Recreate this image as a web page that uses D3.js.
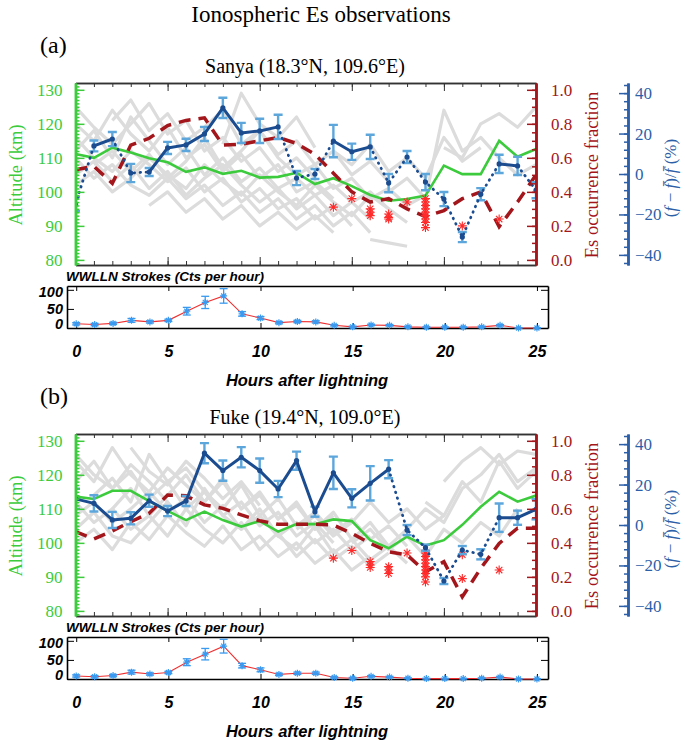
<!DOCTYPE html>
<html>
<head>
<meta charset="utf-8">
<script src="https://cdn.jsdelivr.net/npm/d3@7"></script>
<style>
body { margin: 0; background: #fff; }
</style>
</head>
<body>
<svg id="viz"></svg>
<script>
var _ = null
var hours = d3.range(0, 26)

// ---- Sanya (a) ----
var sanyaAlt = [111.1,110.0,113.0,111.6,109.9,108.7,105.9,107.2,105.3,106.2,104.2,104.4,105.6,102.3,104.0,101.7,99.1,97.4,97.9,98.9,107.7,105.2,105.2,115.0,110.3,112.6]
var sanyaOcc = [0.53,0.55,0.45,0.675,0.715,0.79,0.82,0.835,0.675,0.68,0.70,0.72,0.685,0.62,0.51,0.40,0.34,0.36,0.30,0.255,0.29,0.36,0.40,0.195,0.34,0.50]
var sanyaDev = [-14.9,13.9,17.3,0.5,1.0,12.9,14.4,19.8,32.7,20.3,21.3,23.3,-2.0,0.0,16.3,11.0,13.4,-4.5,8.4,-4.0,-12.4,-31.2,-10.0,5.0,4.0,-8.0]
var sanyaDevErr = [3.5,2.7,3.5,4.5,2.0,3.0,3.0,3.5,5.0,5.0,6.0,6.0,3.5,2.5,8.0,4.0,6.0,4.5,3.0,4.0,3.5,2.5,3.0,4.5,4.5,4.0]
// 1 = significant change between consecutive hours
var sanyaSig = [0,1,0,0,1,1,1,1,1,1,1,0,0,0,1,1,0,0,0,0,0,0,0,1,0]
var sanyaStarH = [14,15,16,16,16,17,17,17,18,19,19,19,19,19,19,19,19,19,21,23]
var sanyaStarV = [0.31,0.36,0.30,0.28,0.26,0.27,0.25,0.24,0.34,0.36,0.34,0.32,0.30,0.28,0.26,0.24,0.22,0.19,0.20,0.24]
var sanyaStrokes = [11,9,12,20,16,20,44,67,84,37,26,14,17,16,7,3,8,7,3,2,2,2,3,7,0,0]
var sanyaStrokeErr = [3,3,3,5,3,3,10,16,19,6,4,3,3,3,2,2,2,2,2,1,1,1,2,2,1,1]
var sanyaGrey = [
  [112,118,110,122,115,108,113,105,110,103,107,101,104,99,102,97,100,95],
  [120,115,124,117,112,119,110,114,106,111,104,108,100,103,98],
  [105,109,103,108,101,106,99,104,108,102,97,101,95,99,93,97,92],
  [125,119,114,120,126,117,121,112,116,109,113,106,110,104],
  [_,108,112,106,111,104,109,116,107,112,118,110,105,108,101,104,98,101,96,99],
  [116,110,106,112,108,103,107,100,104,97,101,95,98,92,96,90],
  [102,106,100,104,110,105,101,108,103,99,105,100,96,102,97,93,99,95,91],
  [_,_,121,127,118,123,115,119,124,114,118,111,115,108,112,105,109,103],
  [110,104,108,102,99,104,98,102,96,100,94,98,92,96,90,94,88],
  [_,_,_,_,_,_,_,_,_,_,_,_,_,_,_,_,_,100,104,98,124,112,116,110,105,108],
  [_,_,_,_,_,_,_,_,_,_,_,_,_,_,_,_,_,_,_,_,113,110,120,123,119,125],
  [_,_,_,_,_,_,_,_,_,_,_,_,_,_,_,_,86,85,84],
  [_,_,_,_,96,100,94,98,92,96,90,94,89,93,88],
  [_,_,_,_,_,_,_,_,_,_,_,_,_,_,112,108,114,106,110,104,116,109,113],
  [_,_,_,_,_,_,_,_,114,129,120,116,122,113]
]

// ---- Fuke (b) ----
var fukeAlt = [113.6,112.9,115.3,115.3,112.3,109.4,106.7,109.2,106.7,104.8,106.4,103.3,105.5,105.5,106.9,106.4,100.8,98.4,101.8,99.2,100.8,105.3,110.6,115.0,112.1,113.9]
var fukeOcc = [0.466,0.423,0.47,0.524,0.574,0.681,0.677,0.623,0.603,0.564,0.53,0.509,0.509,0.509,0.505,0.456,0.397,0.348,0.329,0.23,0.289,0.083,0.25,0.397,0.486,0.486]
var fukeDev = [12.9,10.7,2.5,3.3,12.0,6.9,11.9,35.5,26.9,33.5,26.9,17.8,31.8,6.6,25.8,13.2,20.6,27.6,-2.5,-11.2,-27.7,-12.4,-14.5,3.6,3.6,7.8]
var fukeDevErr = [5.0,4.0,4.0,3.0,3.0,2.5,2.5,5.0,5.0,5.0,6.0,4.0,4.5,2.5,8.0,4.5,8.5,4.5,2.5,1.5,1.5,2.0,2.5,7.0,3.5,5.0]
var fukeSig = [1,1,1,1,1,1,1,1,1,1,1,1,1,1,1,1,1,0,0,0,0,0,0,1,1]
var fukeStarH = [14,15,16,16,16,17,17,17,18,19,19,19,19,19,19,19,19,19,21,21,23]
var fukeStarV = [0.31,0.355,0.29,0.27,0.255,0.26,0.24,0.22,0.34,0.34,0.32,0.30,0.28,0.26,0.24,0.22,0.20,0.17,0.33,0.19,0.24]
var fukeStrokes = [8,6,9,18,13,17,44,65,86,35,24,12,15,15,4,2,7,5,2,1,1,1,2,5,0,0]
var fukeStrokeErr = [3,3,3,5,3,3,9,15,18,6,5,3,3,3,2,2,2,2,1,1,1,1,1,2,1,1]
var fukeGrey = [
  [118,124,116,121,113,118,110,115,108,112,105,109,102,106,100],
  [108,112,106,110,115,109,113,106,111,104,108,102,106,100,104,98,102],
  [124,118,128,120,115,122,117,112,119,110,114,107,111,104,108],
  [100,104,98,106,101,108,103,99,105,98,102,96,100,94,98,92,96],
  [_,114,119,112,126,118,122,115,110,117,108,113,105,109,103,107,101,105,99],
  [112,106,110,104,108,102,110,104,100,106,98,103,96,101,95,99,93,97],
  [_,_,110,116,108,114,120,112,118,110,115,107,112,104,109,101,106,99,104],
  [104,109,102,100,106,112,105,116,108,104,110,102,98,105,97,101,95,99,94],
  [_,_,_,_,_,_,_,_,_,_,_,_,104,108,102,106,112,106,110,104,108],
  [_,_,_,_,_,_,_,_,_,_,_,_,_,_,_,_,_,_,104,110,106,116,120,126,118,122],
  [_,_,_,_,_,_,_,_,_,_,_,_,_,_,_,_,_,_,_,112,108,118,112,124,116,121],
  [_,_,_,_,_,_,_,_,_,_,_,_,_,_,_,_,_,_,_,_,118,124,128,123,127,126],
  [_,_,_,_,_,_,_,_,_,_,_,_,_,_,_,100,104,98,102,96,104,100,106,102,110],
  [126,120,116,123,118,112],
  [_,_,_,128,121,117,124,119,113,118,111]
]

var devTicks = [-40, -20, 0, 20, 40]
var strokeTicks = [0, 50, 100]
var hourTicks = [0, 5, 10, 15, 20, 25]

var width = 685
var height = 740

var serif = "'Liberation Serif', 'Times New Roman', serif"
var sans = "'Liberation Sans', Arial, sans-serif"

var green = "#3ccb3c"
var darkRed = "#a3161b"
var blueAx = "#2d5fa8"
var blueLine = "#1b4c90"
var blueErr = "#5ca6dc"
var starRed = "#ff2a2a"
var grey = "#dcdcdc"

var svg = d3.select("#viz")
	.attr("width", width)
	.attr("height", height)

svg.append("text")
	.attr("x", 321).attr("y", 22)
	.attr("text-anchor", "middle")
	.style("font-family", serif).style("font-size", "23px")
	.text("Ionospheric Es observations")

var panels = [
	{top: 0, tag: "(a)", title: "Sanya (18.3°N, 109.6°E)", grey: sanyaGrey, alt: sanyaAlt, occ: sanyaOcc,
	 dev: sanyaDev, devErr: sanyaDevErr, sig: sanyaSig, starH: sanyaStarH, starV: sanyaStarV,
	 strokes: sanyaStrokes, strokeErr: sanyaStrokeErr},
	{top: 351, tag: "(b)", title: "Fuke (19.4°N, 109.0°E)", grey: fukeGrey, alt: fukeAlt, occ: fukeOcc,
	 dev: fukeDev, devErr: fukeDevErr, sig: fukeSig, starH: fukeStarH, starV: fukeStarV,
	 strokes: fukeStrokes, strokeErr: fukeStrokeErr}
]

function starPath(r){
	var a = r * 0.7071
	return "M" + (-r) + ",0H" + r + "M0," + (-r) + "V" + r +
		"M" + (-a) + "," + (-a) + "L" + a + "," + a +
		"M" + (-a) + "," + a + "L" + a + "," + (-a)
}

function styleAxis(sel, color, font, size, weight, style){
	sel.attr("color", color)
		.attr("font-family", font)
		.attr("font-size", size)
	sel.selectAll("text").style("font-weight", weight || "normal").style("font-style", style || "normal")
}

function drawPanel(p, idx){

	var g = svg.append("g").attr("transform", "translate(0," + p.top + ")")

	var x = d3.scaleLinear().domain([0, 25]).range([75.5, 536])
	var yAlt = d3.scaleLinear().domain([78.5, 132]).range([265, 83])
	var yOcc = d3.scaleLinear().domain([-0.03, 1.04]).range([265, 83])
	var yDev = d3.scaleLinear().domain([-45, 45]).range([265, 83])

	// titles
	g.append("text").attr("x", 40).attr("y", 53)
		.style("font-family", serif).style("font-size", "24px")
		.text(p.tag)
	g.append("text").attr("x", 305).attr("y", 73)
		.attr("text-anchor", "middle")
		.style("font-family", serif).style("font-size", "20px")
		.text(p.title)

	g.append("clipPath").attr("id", "clip" + idx)
		.append("rect").attr("x", 75.5).attr("y", 83).attr("width", 460.5).attr("height", 182)

	var plot = g.append("g").attr("clip-path", "url(#clip" + idx + ")")

	// individual event traces
	var altLine = d3.line()
		.defined(d => d[1] != null)
		.x(d => x(d[0]))
		.y(d => yAlt(d[1]))

	p.grey.forEach(function(tr){
		plot.append("path")
			.datum(tr.map((v, i) => [i, v]))
			.attr("d", altLine)
			.attr("fill", "none")
			.attr("stroke", grey)
			.attr("stroke-width", 3.2)
			.attr("stroke-linejoin", "round")
	})

	// mean altitude
	plot.append("path")
		.datum(p.alt.map((v, i) => [i, v]))
		.attr("d", altLine)
		.attr("fill", "none")
		.attr("stroke", green)
		.attr("stroke-width", 2.6)

	// occurrence fraction
	var occLine = d3.line().x((d, i) => x(i)).y(d => yOcc(d))
	plot.append("path")
		.datum(p.occ)
		.attr("d", occLine)
		.attr("fill", "none")
		.attr("stroke", darkRed)
		.attr("stroke-width", 3.5)
		.attr("stroke-dasharray", "12,8")

	// individual occurrence points
	plot.selectAll(".star")
		.data(p.starH.map((h, i) => [h, p.starV[i]]))
		.enter().append("path")
		.attr("class", "star")
		.attr("d", starPath(4.5))
		.attr("transform", d => "translate(" + x(d[0]) + "," + yOcc(d[1]) + ")")
		.attr("stroke", starRed)
		.attr("stroke-width", 1.1)
		.attr("fill", "none")

	// deviation error bars
	var eb = plot.selectAll(".eb").data(p.dev).enter().append("g").attr("class", "eb")
	eb.append("line")
		.attr("x1", (d, i) => x(i)).attr("x2", (d, i) => x(i))
		.attr("y1", (d, i) => yDev(d + p.devErr[i])).attr("y2", (d, i) => yDev(d - p.devErr[i]))
	eb.append("line")
		.attr("x1", (d, i) => x(i) - 4.5).attr("x2", (d, i) => x(i) + 4.5)
		.attr("y1", (d, i) => yDev(d + p.devErr[i])).attr("y2", (d, i) => yDev(d + p.devErr[i]))
	eb.append("line")
		.attr("x1", (d, i) => x(i) - 4.5).attr("x2", (d, i) => x(i) + 4.5)
		.attr("y1", (d, i) => yDev(d - p.devErr[i])).attr("y2", (d, i) => yDev(d - p.devErr[i]))
	eb.selectAll("line").attr("stroke", blueErr).attr("stroke-width", 2.4)

	// deviation line, solid where significant, dotted otherwise
	var runs = []
	for(let i = 0; i < p.sig.length; i++){
		let s = p.sig[i]
		if(runs.length && runs[runs.length - 1].s === s){
			runs[runs.length - 1].pts.push(i + 1)
		}
		else{
			runs.push({s: s, pts: [i, i + 1]})
		}
	}
	var devLine = d3.line().x(i => x(i)).y(i => yDev(p.dev[i]))
	runs.forEach(function(r){
		plot.append("path")
			.datum(r.pts)
			.attr("d", devLine)
			.attr("fill", "none")
			.attr("stroke", blueLine)
			.attr("stroke-width", r.s ? 3 : 2.8)
			.attr("stroke-linejoin", "round")
			.attr("stroke-linecap", r.s ? "butt" : "round")
			.attr("stroke-dasharray", r.s ? null : "0.5,5.5")
	})
	plot.selectAll(".dot").data(p.dev).enter().append("circle")
		.attr("class", "dot")
		.attr("cx", (d, i) => x(i)).attr("cy", d => yDev(d))
		.attr("r", 2.6)
		.attr("fill", blueLine)

	// ---- axes of main plot ----
	var topMinor = g.append("g").attr("transform", "translate(0,83)")
		.call(d3.axisTop(x).tickValues(hours).tickSize(-4).tickSizeOuter(0).tickFormat(""))
	var topMajor = g.append("g").attr("transform", "translate(0,83)")
		.call(d3.axisTop(x).tickValues(hourTicks).tickSize(-8).tickSizeOuter(0).tickFormat(""))
	var botMinor = g.append("g").attr("transform", "translate(0,265)")
		.call(d3.axisBottom(x).tickValues(hours).tickSize(-4).tickSizeOuter(0).tickFormat(""))
	var botMajor = g.append("g").attr("transform", "translate(0,265)")
		.call(d3.axisBottom(x).tickValues(hourTicks).tickSize(-8).tickSizeOuter(0).tickFormat(""))
	;[topMinor, topMajor, botMinor, botMajor].forEach(a => {
		a.attr("color", "#333")
		a.select(".domain").attr("stroke-width", 1.5)
	})

	var altMinor = g.append("g").attr("transform", "translate(75.5,0)")
		.call(d3.axisLeft(yAlt).tickValues(d3.range(79, 132)).tickSize(-4).tickSizeOuter(0).tickFormat(""))
	var altMajor = g.append("g").attr("transform", "translate(75.5,0)")
		.call(d3.axisLeft(yAlt).tickValues(d3.range(80, 131, 10)).tickSize(-9).tickSizeOuter(0).tickPadding(13))
	;[altMinor, altMajor].forEach(a => {
		styleAxis(a, green, serif, 17)
		a.selectAll("line").attr("stroke-width", 1.5)
		a.select(".domain").attr("stroke-width", 2.5)
	})

	var occMinor = g.append("g").attr("transform", "translate(536,0)")
		.call(d3.axisRight(yOcc).tickValues(d3.range(0, 1.001, 0.05)).tickSize(-4).tickSizeOuter(0).tickFormat(""))
	var occMajor = g.append("g").attr("transform", "translate(536,0)")
		.call(d3.axisRight(yOcc).tickValues(d3.range(0, 1.01, 0.2)).tickSize(-9).tickSizeOuter(0).tickPadding(15)
			.tickFormat(d3.format(".1f")))
	;[occMinor, occMajor].forEach(a => {
		styleAxis(a, darkRed, serif, 17)
		a.selectAll("line").attr("stroke-width", 1.5)
		a.select(".domain").attr("stroke-width", 2.5)
	})

	var devMinor = g.append("g").attr("transform", "translate(628,0)")
		.call(d3.axisRight(yDev).tickValues(d3.range(-44, 45, 4)).tickSize(-4).tickSizeOuter(0).tickFormat(""))
	var devMajor = g.append("g").attr("transform", "translate(628,0)")
		.call(d3.axisRight(yDev).tickValues(devTicks).tickSize(-9).tickSizeOuter(0).tickPadding(7))
	;[devMinor, devMajor].forEach(a => {
		styleAxis(a, blueAx, serif, 17)
		a.selectAll("line").attr("stroke-width", 1.5)
		a.select(".domain").attr("stroke-width", 2.5)
	})

	// axis titles
	g.append("text")
		.attr("transform", "translate(16,175) rotate(-90)")
		.attr("text-anchor", "middle").attr("dy", "0.35em")
		.attr("fill", green)
		.style("font-family", serif).style("font-size", "18.5px")
		.text("Altitude (km)")
	g.append("text")
		.attr("transform", "translate(592,175) rotate(-90)")
		.attr("text-anchor", "middle").attr("dy", "0.35em")
		.attr("fill", darkRed)
		.style("font-family", serif).style("font-size", "18.5px")
		.text("Es occurrence fraction")
	var devTitle = g.append("text")
		.attr("transform", "translate(670,178) rotate(-90)")
		.attr("text-anchor", "middle").attr("dy", "0.35em")
		.attr("fill", blueAx)
		.style("font-family", serif).style("font-size", "17px")
	devTitle.append("tspan").text("(")
	devTitle.append("tspan").style("font-style", "italic").text("f\u2009\u2212\u2009f\u0304")
	devTitle.append("tspan").text(")/")
	devTitle.append("tspan").style("font-style", "italic").text("f\u0304")
	devTitle.append("tspan").text(" (%)")

	// ---- WWLLN strokes ----
	var xs = d3.scaleLinear().domain([-0.5, 25.6]).range([67, 548])
	var ys = d3.scaleLinear().domain([0, 110]).range([328, 286])

	g.append("text").attr("x", 66).attr("y", 281)
		.style("font-family", sans).style("font-size", "13.5px")
		.style("font-weight", "bold").style("font-style", "italic")
		.text("WWLLN Strokes (Cts per hour)")

	var sb = g.append("g").attr("transform", "translate(0,328)")
		.call(d3.axisBottom(xs).tickValues(hourTicks).tickSize(-5).tickSizeOuter(0).tickPadding(18))
	styleAxis(sb, "#000", sans, 16, "bold", "italic")
	var st = g.append("g").attr("transform", "translate(0,286)")
		.call(d3.axisTop(xs).tickValues(hourTicks).tickSize(-5).tickSizeOuter(0).tickFormat(""))
	st.attr("color", "#000")
	var sl = g.append("g").attr("transform", "translate(67,0)")
		.call(d3.axisLeft(ys).tickValues(strokeTicks).tickSize(-7).tickSizeOuter(0).tickPadding(4))
	styleAxis(sl, "#000", sans, 14.5, "bold", "italic")
	sl.selectAll("text").attr("dy", d => d === 0 ? "0.05em" : d === 50 ? "0.3em" : "0.45em")
	var sr = g.append("g").attr("transform", "translate(548,0)")
		.call(d3.axisRight(ys).tickValues(strokeTicks).tickSize(-7).tickSizeOuter(0).tickFormat(""))
	sr.attr("color", "#000")
	;[sb, st, sl, sr].forEach(a => a.select(".domain").attr("stroke-width", 1.6))

	var sline = d3.line().x((d, i) => xs(i)).y(d => ys(d))
	g.append("path")
		.datum(p.strokes)
		.attr("d", sline)
		.attr("fill", "none")
		.attr("stroke", "#f03030")
		.attr("stroke-width", 1.1)

	var seb = g.selectAll(".seb" + idx).data(p.strokes).enter().append("g").attr("class", "seb" + idx)
	seb.append("line")
		.attr("x1", (d, i) => xs(i)).attr("x2", (d, i) => xs(i))
		.attr("y1", (d, i) => ys(d + p.strokeErr[i])).attr("y2", (d, i) => ys(Math.max(0, d - p.strokeErr[i])))
	seb.append("line")
		.attr("x1", (d, i) => xs(i) - 4).attr("x2", (d, i) => xs(i) + 4)
		.attr("y1", (d, i) => ys(d + p.strokeErr[i])).attr("y2", (d, i) => ys(d + p.strokeErr[i]))
	seb.append("line")
		.attr("x1", (d, i) => xs(i) - 4).attr("x2", (d, i) => xs(i) + 4)
		.attr("y1", (d, i) => ys(Math.max(0, d - p.strokeErr[i]))).attr("y2", (d, i) => ys(Math.max(0, d - p.strokeErr[i])))
	seb.append("path")
		.attr("d", starPath(3.5))
		.attr("transform", (d, i) => "translate(" + xs(i) + "," + ys(d) + ")")
	seb.selectAll("line").attr("stroke", "#3a9af0").attr("stroke-width", 1.3)
	seb.selectAll("path").attr("stroke", "#3a9af0").attr("stroke-width", 1.2).attr("fill", "none")

	g.append("text").attr("x", 307).attr("y", 386)
		.attr("text-anchor", "middle")
		.style("font-family", sans).style("font-size", "16.5px")
		.style("font-weight", "bold").style("font-style", "italic")
		.text("Hours after lightning")
}

panels.forEach(drawPanel)
</script>
</body>
</html>
